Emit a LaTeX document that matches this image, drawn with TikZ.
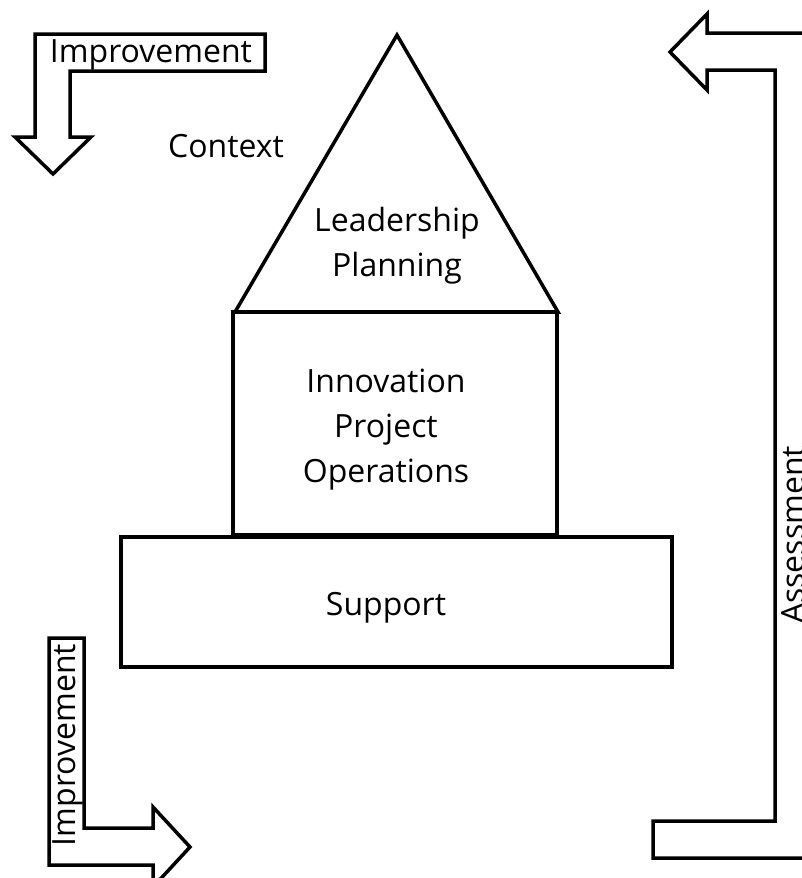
\documentclass[tikz,border=0pt]{standalone}
\usepackage{fontspec}
\setmainfont{Open Sans}
\begin{document}
\begin{tikzpicture}[x=1pt,y=-1pt,
  shapeline/.style={draw=black,line width=3.5pt,line join=miter,fill=white},
  lbl/.style={font=\fontsize{32}{45}\selectfont,inner sep=0pt,align=center},
  boxnode/.style={draw=black,line width=3.5pt,inner sep=0pt,fill=white}]
\useasboundingbox (0,0) rectangle (802,878);
% house
\draw[shapeline] (397,35) -- (558,312) -- (235,312) -- cycle;
\node[boxnode,minimum width=324pt,minimum height=223pt] (mid) at (395,423.5) {};
\node[boxnode,minimum width=551pt,minimum height=130pt] (sup) at (396.5,602) {};
\node[lbl] (lead) at (397,246) {Leadership\\Planning};
\node[lbl] (inno) at (386,429.5) {Innovation\\Project\\Operations};
\node[lbl] (supt) at (386,608) {Support};
\node[lbl] (ctx) at (226,146) {Context};
% top-left arrow
\draw[shapeline] (35,34) -- (265,34) -- (265,71) -- (70,71) -- (70,137) -- (91,137)
  -- (53,174) -- (15,137) -- (35,137) -- cycle;
\node[lbl] (imp1) at (151,55) {Improvement};
% bottom-left arrow
\draw[shapeline] (49,638) -- (84,638) -- (84,828) -- (153,828) -- (153,807)
  -- (190,847) -- (153,887) -- (153,865) -- (49,865) -- cycle;
\node[lbl,rotate=90] (imp2) at (68,745) {Improvement};
% right arrow
\draw[shapeline] (830,33) -- (707,33) -- (707,14) -- (670,52) -- (707,90) -- (707,70)
  -- (775,70) -- (775,821) -- (653,821) -- (653,858) -- (830,858);
\node[lbl,rotate=90] (ass) at (793,535) {Assessment};
\end{tikzpicture}
\end{document}
